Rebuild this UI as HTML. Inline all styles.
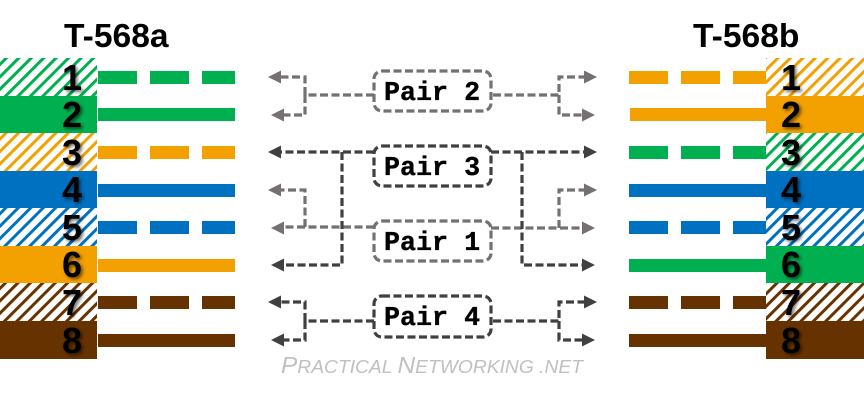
<!DOCTYPE html>
<html><head><meta charset="utf-8"><style>
html,body{margin:0;padding:0;background:#fff}
svg{display:block}
.h{font:bold 33.6px "Liberation Sans",sans-serif;fill:#000}
.n{font:bold 36px "Liberation Sans",sans-serif;fill:#000;text-anchor:middle;filter:drop-shadow(2px 2px 1.5px rgba(0,0,0,.55))}
.p{font:bold 26.7px "Liberation Mono",monospace;fill:#000;stroke:#000;stroke-width:.35}
.w{font-family:"Liberation Sans",sans-serif;font-style:italic;fill:#c0c0c0}
.w .c{font-size:23.5px}
.w .s{font-size:18.5px;text-transform:uppercase}
.g{fill:none;stroke:#767171;stroke-width:3.2;stroke-dasharray:8 3.5}
.d{fill:none;stroke:#404040;stroke-width:3.2;stroke-dasharray:8 3.5}
.gf{fill:#767171}.df{fill:#404040}
</style></head><body>
<svg width="864" height="400" viewBox="0 0 864 400" xmlns="http://www.w3.org/2000/svg">
<defs>
<pattern id="sg" width="8.8" height="8.8" patternUnits="userSpaceOnUse" patternTransform="rotate(45)"><rect width="8.8" height="8.8" fill="#fff"/><rect width="3" height="8.8" fill="#00b050"/></pattern>
<pattern id="so" width="8.8" height="8.8" patternUnits="userSpaceOnUse" patternTransform="rotate(45)"><rect width="8.8" height="8.8" fill="#fff"/><rect width="3" height="8.8" fill="#f2a100"/></pattern>
<pattern id="sb" width="8.8" height="8.8" patternUnits="userSpaceOnUse" patternTransform="rotate(45)"><rect width="8.8" height="8.8" fill="#fff"/><rect width="3" height="8.8" fill="#0070c0"/></pattern>
<pattern id="sn" width="8.8" height="8.8" patternUnits="userSpaceOnUse" patternTransform="rotate(45)"><rect width="8.8" height="8.8" fill="#fff"/><rect width="3" height="8.8" fill="#663300"/></pattern>
</defs>

<text class="h" x="64" y="47">T-568a</text>
<text class="h" x="693" y="47">T-568b</text>

<!-- left blocks -->
<rect x="0" y="58" width="97" height="38" fill="url(#sg)"/>
<rect x="0" y="96" width="97" height="37" fill="#00b050"/>
<rect x="0" y="133" width="97" height="38" fill="url(#so)"/>
<rect x="0" y="171" width="97" height="37" fill="#0070c0"/>
<rect x="0" y="208" width="97" height="38" fill="url(#sb)"/>
<rect x="0" y="246" width="97" height="37" fill="#f2a100"/>
<rect x="0" y="283" width="97" height="38" fill="url(#sn)"/>
<rect x="0" y="321" width="97" height="38" fill="#663300"/>

<!-- right blocks -->
<rect x="766" y="58" width="98" height="38" fill="url(#so)"/>
<rect x="766" y="96" width="98" height="37" fill="#f2a100"/>
<rect x="766" y="133" width="98" height="38" fill="url(#sg)"/>
<rect x="766" y="171" width="98" height="37" fill="#0070c0"/>
<rect x="766" y="208" width="98" height="38" fill="url(#sb)"/>
<rect x="766" y="246" width="98" height="37" fill="#00b050"/>
<rect x="766" y="283" width="98" height="38" fill="url(#sn)"/>
<rect x="766" y="321" width="98" height="38" fill="#663300"/>

<!-- left wires -->
<g fill="#00b050"><rect x="98" y="71" width="39" height="13"/><rect x="150" y="71" width="39" height="13"/><rect x="202" y="71" width="33" height="13"/><rect x="98" y="108" width="137" height="13"/></g>
<g fill="#f2a100"><rect x="98" y="146" width="39" height="13"/><rect x="150" y="146" width="39" height="13"/><rect x="202" y="146" width="33" height="13"/><rect x="98" y="259" width="137" height="13"/></g>
<g fill="#0070c0"><rect x="98" y="184" width="137" height="13"/><rect x="98" y="221" width="39" height="13"/><rect x="150" y="221" width="39" height="13"/><rect x="202" y="221" width="33" height="13"/></g>
<g fill="#663300"><rect x="98" y="296" width="39" height="13"/><rect x="150" y="296" width="39" height="13"/><rect x="202" y="296" width="33" height="13"/><rect x="98" y="334" width="137" height="13"/></g>

<!-- right wires -->
<g fill="#f2a100"><rect x="629" y="71" width="39" height="13"/><rect x="681" y="71" width="39" height="13"/><rect x="733" y="71" width="33" height="13"/><rect x="630" y="108" width="136" height="13"/></g>
<g fill="#00b050"><rect x="629" y="146" width="39" height="13"/><rect x="681" y="146" width="39" height="13"/><rect x="733" y="146" width="33" height="13"/><rect x="629" y="259" width="137" height="13"/></g>
<g fill="#0070c0"><rect x="629" y="184" width="137" height="13"/><rect x="629" y="221" width="39" height="13"/><rect x="681" y="221" width="39" height="13"/><rect x="733" y="221" width="33" height="13"/></g>
<g fill="#663300"><rect x="629" y="296" width="39" height="13"/><rect x="681" y="296" width="39" height="13"/><rect x="733" y="296" width="33" height="13"/><rect x="629" y="334" width="137" height="13"/></g>

<!-- digits -->
<text class="n" x="72" y="90">1</text><text class="n" x="72" y="127">2</text><text class="n" x="72" y="165">3</text><text class="n" x="72" y="202">4</text><text class="n" x="72" y="240">5</text><text class="n" x="72" y="277">6</text><text class="n" x="72" y="315">7</text><text class="n" x="72" y="353">8</text>
<text class="n" x="791" y="90">1</text><text class="n" x="791" y="127">2</text><text class="n" x="791" y="165">3</text><text class="n" x="791" y="202">4</text><text class="n" x="791" y="240">5</text><text class="n" x="791" y="277">6</text><text class="n" x="791" y="315">7</text><text class="n" x="791" y="353">8</text>

<!-- Pair 2 connectors -->
<path class="g" d="M374 95H305V77H279M305 95V115H282"/>
<path class="g" d="M493 95H559V77H586M559 95V115H584"/>
<path class="gf" d="M268 77L281 70.5V83.5ZM271 115L284 108.5V121.5ZM597 77L584 70.5V83.5ZM595 115L582 108.5V121.5Z"/>

<!-- Pair 1 connectors -->
<path class="g" d="M374 227H282M305 227V190H279"/>
<path class="g" d="M491 228H584M559 228V190H586"/>
<path class="gf" d="M268 190L281 183.5V196.5ZM271 228L284 221.5V234.5ZM597 190L584 183.5V196.5ZM595 228L582 221.5V234.5Z"/>

<!-- Pair 3 connectors -->
<path class="d" d="M374 152H279M342 152V265H282"/>
<path class="d" d="M491 152H586M522 152V265H584"/>
<path class="df" d="M268 152L281 145.5V158.5ZM271 265L284 258.5V271.5ZM597 152L584 145.5V158.5ZM595 265L582 258.5V271.5Z"/>

<!-- Pair 4 connectors -->
<path class="d" d="M374 321H305V302H279M305 321V340H282"/>
<path class="d" d="M493 321H559V302H586M559 321V340H584"/>
<path class="df" d="M268 302L281 295.5V308.5ZM271 340L284 333.5V346.5ZM597 302L584 295.5V308.5ZM595 340L582 333.5V346.5Z"/>

<!-- Pair boxes -->
<rect class="g" style="fill:#fff" x="374" y="71" width="117" height="40" rx="8"/>
<rect class="d" style="fill:#fff" x="374" y="146" width="117" height="40" rx="8"/>
<rect class="g" style="fill:#fff" x="374" y="221" width="117" height="40" rx="8"/>
<rect class="d" style="fill:#fff" x="374" y="296" width="117" height="41" rx="8"/>

<text class="p" x="384" y="100">Pair 2</text>
<text class="p" x="384" y="175">Pair 3</text>
<text class="p" x="384" y="250">Pair 1</text>
<text class="p" x="384" y="325">Pair 4</text>

<text class="w" x="281" y="373" textLength="302" lengthAdjust="spacingAndGlyphs"><tspan class="c">P</tspan><tspan class="s">ractical </tspan><tspan class="c">N</tspan><tspan class="s">etworking .net</tspan></text>
</svg>
</body></html>
